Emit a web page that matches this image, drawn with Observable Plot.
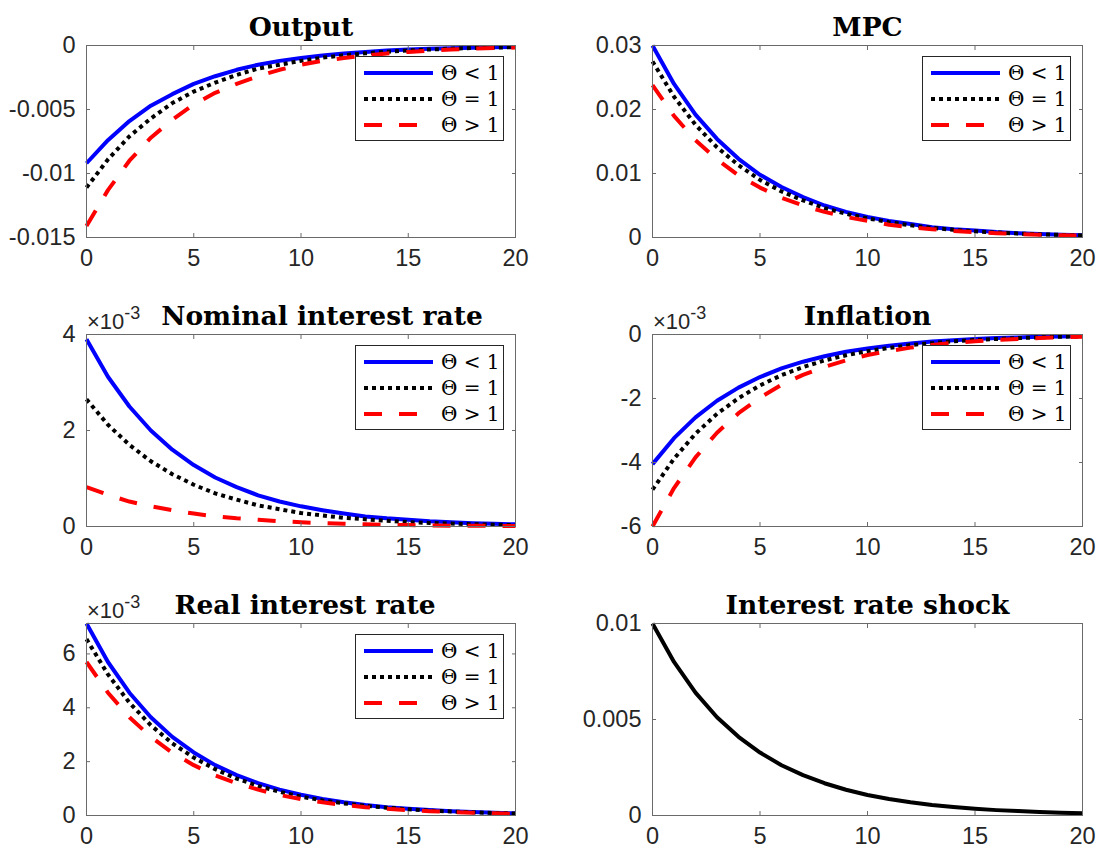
<!DOCTYPE html>
<html><head><meta charset="utf-8">
<script src="https://cdn.jsdelivr.net/npm/d3@7"></script>
<script src="https://cdn.jsdelivr.net/npm/@observablehq/plot@0.6"></script>
<style>
body{margin:0;background:#fff;}
#fig{position:relative;width:1101px;height:855px;overflow:hidden;background:#fff;}
.panel{position:absolute;}
.overlay{position:absolute;overflow:visible;}
</style></head><body><div id="fig"></div>
<script>
// ---------- data ----------
const periods = [0,1,2,3,4,5,6,7,8,9,10,11,12,13,14,15,16,17,18,19,20];
const seriesLabels = ["Θ < 1", "Θ = 1", "Θ > 1"];

const outputLow  = [-0.0092,-0.0074,-0.0059,-0.0047,-0.0038,-0.0030,-0.0024,-0.0019,-0.0015,-0.0012,-0.00098,-0.00079,-0.00063,-0.00050,-0.00040,-0.00032,-0.00026,-0.00021,-0.00017,-0.00013,-0.00011];
const outputOne  = [-0.0111,-0.0089,-0.0071,-0.0057,-0.0045,-0.0036,-0.0029,-0.0023,-0.0018,-0.0015,-0.0012,-0.00095,-0.00076,-0.00061,-0.00049,-0.00039,-0.00031,-0.00025,-0.00020,-0.00016,-0.00013];
const outputHigh = [-0.0141,-0.0113,-0.0090,-0.0072,-0.0058,-0.0046,-0.0037,-0.0030,-0.0024,-0.0019,-0.0015,-0.0012,-0.00097,-0.00078,-0.00062,-0.00050,-0.00040,-0.00032,-0.00025,-0.00020,-0.00016];

const mpcLow  = [0.0300,0.0240,0.0192,0.0154,0.0123,0.0098,0.0079,0.0063,0.0050,0.0040,0.0032,0.0026,0.0021,0.0016,0.0013,0.0011,0.00085,0.00068,0.00054,0.00043,0.00035];
const mpcOne  = [0.0275,0.0220,0.0176,0.0141,0.0113,0.0090,0.0072,0.0058,0.0046,0.0037,0.0030,0.0024,0.0019,0.0015,0.0012,0.00097,0.00078,0.00062,0.00050,0.00040,0.00032];
const mpcHigh = [0.0238,0.0190,0.0152,0.0122,0.0097,0.0078,0.0062,0.0050,0.0040,0.0032,0.0026,0.0020,0.0016,0.0013,0.0010,0.00084,0.00067,0.00054,0.00043,0.00034,0.00028];

const nominalLow  = [0.00390,0.00312,0.00250,0.00200,0.00160,0.00128,0.00102,0.00082,0.00065,0.00052,0.00042,0.00034,0.00027,0.00021,0.00017,0.00014,0.00011,0.00009,0.00007,0.000056,0.000045];
const nominalOne  = [0.00265,0.00212,0.00170,0.00136,0.00109,0.00087,0.00069,0.00056,0.00044,0.00036,0.00028,0.00023,0.00018,0.00015,0.00012,0.00009,0.000075,0.00006,0.000048,0.000038,0.00003];
const nominalHigh = [0.00082,0.00066,0.00052,0.00042,0.00034,0.00027,0.00021,0.00017,0.00014,0.00011,0.000088,0.00007,0.000056,0.000045,0.000036,0.000029,0.000023,0.000018,0.000015,0.000012,0.000009];

const inflationLow  = [-0.00405,-0.00324,-0.00259,-0.00207,-0.00166,-0.00133,-0.00106,-0.00085,-0.00068,-0.00054,-0.00044,-0.00035,-0.00028,-0.00022,-0.00018,-0.00014,-0.00011,-0.00009,-0.00007,-0.00006,-0.00005];
const inflationOne  = [-0.00485,-0.00388,-0.00310,-0.00248,-0.00199,-0.00159,-0.00127,-0.00102,-0.00081,-0.00065,-0.00052,-0.00042,-0.00033,-0.00027,-0.00021,-0.00017,-0.00014,-0.00011,-0.00009,-0.00007,-0.00006];
const inflationHigh = [-0.00600,-0.00480,-0.00384,-0.00307,-0.00246,-0.00197,-0.00157,-0.00126,-0.00101,-0.00081,-0.00064,-0.00052,-0.00041,-0.00033,-0.00026,-0.00021,-0.00017,-0.00014,-0.00011,-0.00009,-0.00007];

const realLow  = [0.00713,0.00570,0.00456,0.00365,0.00292,0.00234,0.00187,0.00150,0.00120,0.00096,0.00077,0.00061,0.00049,0.00039,0.00031,0.00025,0.00020,0.00016,0.00013,0.00010,0.00008];
const realOne  = [0.00655,0.00524,0.00419,0.00335,0.00268,0.00215,0.00172,0.00137,0.00110,0.00088,0.00070,0.00056,0.00045,0.00036,0.00029,0.00023,0.00018,0.00015,0.00012,0.00009,0.000075];
const realHigh = [0.00570,0.00456,0.00365,0.00292,0.00233,0.00187,0.00149,0.00120,0.00096,0.00076,0.00061,0.00049,0.00039,0.00031,0.00025,0.00020,0.00016,0.00013,0.00010,0.00008,0.000065];

const shock = [0.0100,0.0080,0.0064,0.00512,0.0041,0.00328,0.00262,0.0021,0.00168,0.00134,0.00107,0.00086,0.00069,0.00055,0.00044,0.00035,0.00028,0.00023,0.00018,0.00014,0.00012];

const xTicks = [0,5,10,15,20];
const outputTicks = [-0.015,-0.01,-0.005,0];
const mpcTicks = [0,0.01,0.02,0.03];
const nominalTicks = [0,0.002,0.004];
const inflationTicks = [-0.006,-0.004,-0.002,0];
const realTicks = [0,0.002,0.004,0.006];
const shockTicks = [0,0.005,0.01];

// ---------- layout ----------
const colLeft = [0, 550], colWidth = [550, 551], mLeft = [86, 102], mRight = [35, 19];
const rowTop = [0, 289, 578], rowHeight = [288, 288, 277], mTop = 45, mBottom = [51, 51, 40];
const frameColor = "#6a6a6a", textColor = "#262626";
const sansFont = "'Liberation Sans', Arial, Helvetica, sans-serif";
const serifFont = "'DejaVu Serif', serif";
const tickFont = 23.5;

const lineStyles = [
  {stroke: "#0000ff", strokeDasharray: null},
  {stroke: "#000000", strokeDasharray: "4,4"},
  {stroke: "#ff0000", strokeDasharray: "18,17"}
];

const plain = d => String(d);
const milli = d => String(+(d * 1000).toFixed(6));

const panels = [
  {title: "Output", col: 0, row: 0, series: [outputLow, outputOne, outputHigh], domain: [-0.015, 0], ticks: outputTicks, fmt: plain},
  {title: "MPC", col: 1, row: 0, series: [mpcLow, mpcOne, mpcHigh], domain: [0, 0.03], ticks: mpcTicks, fmt: plain},
  {title: "Nominal interest rate", col: 0, row: 1, series: [nominalLow, nominalOne, nominalHigh], domain: [0, 0.004], ticks: nominalTicks, fmt: milli, exp: true, titleDx: 21},
  {title: "Inflation", col: 1, row: 1, series: [inflationLow, inflationOne, inflationHigh], domain: [-0.006, 0], ticks: inflationTicks, fmt: milli, exp: true},
  {title: "Real interest rate", col: 0, row: 2, series: [realLow, realOne, realHigh], domain: [0, 0.00713], ticks: realTicks, fmt: milli, exp: true, titleDx: 4},
  {title: "Interest rate shock", col: 1, row: 2, series: [shock], domain: [0, 0.01], ticks: shockTicks, fmt: plain, single: true}
];

const fig = document.getElementById("fig");

for (const p of panels) {
  const W = colWidth[p.col], H = rowHeight[p.row];
  const ml = mLeft[p.col], mr = mRight[p.col], mb = mBottom[p.row];
  const lineMarks = p.series.map((s, k) => {
    const st = p.single ? {stroke: "#000000", strokeDasharray: null} : lineStyles[k];
    return Plot.line(s.map((v, i) => ({t: periods[i], v})), {
      x: "t", y: "v", stroke: st.stroke, strokeWidth: 4,
      strokeDasharray: st.strokeDasharray, strokeLinecap: "butt", strokeLinejoin: "round"
    });
  });
  const chart = Plot.plot({
    width: W, height: H,
    marginLeft: ml, marginRight: mr, marginTop: mTop, marginBottom: mb,
    x: {domain: [0, 20]},
    y: {domain: p.domain},
    style: {fontFamily: sansFont, color: textColor, background: "transparent", overflow: "visible"},
    marks: [
      ...lineMarks,
      Plot.frame({stroke: frameColor, strokeWidth: 1}),
      Plot.axisX(xTicks, {anchor: "bottom", tickSize: 0, tickPadding: 12, fontSize: tickFont, fill: textColor, tickFormat: plain, label: null}),
      Plot.axisX(xTicks, {anchor: "bottom", tickSize: -4, fill: "none", stroke: frameColor, label: null}),
      Plot.axisX(xTicks, {anchor: "top", tickSize: -4, fill: "none", stroke: frameColor, label: null}),
      Plot.axisY(p.ticks, {anchor: "left", tickSize: 0, tickPadding: 11, fontSize: tickFont, fill: textColor, tickFormat: p.fmt, label: null}),
      Plot.axisY(p.ticks, {anchor: "left", tickSize: -4, fill: "none", stroke: frameColor, label: null}),
      Plot.axisY(p.ticks, {anchor: "right", tickSize: -4, fill: "none", stroke: frameColor, label: null}),
      Plot.text([p.title], {text: d => d, frameAnchor: "top", lineAnchor: "bottom", dy: -10, dx: p.titleDx || 0,
        fontFamily: serifFont, fontWeight: "bold", fontSize: 26.5, fill: "#000"})
    ]
  });
  chart.classList.add("panel");
  chart.style.left = colLeft[p.col] + "px";
  chart.style.top = rowTop[p.row] + "px";
  fig.appendChild(chart);

  const boxLeft = colLeft[p.col] + ml, boxRight = colLeft[p.col] + W - mr, boxTop = rowTop[p.row] + mTop;

  if (p.exp) {
    const e = d3.select(fig).append("svg").attr("class", "overlay")
      .attr("width", 90).attr("height", 34)
      .style("left", (boxLeft + 1) + "px").style("top", (boxTop - 34) + "px");
    const t = e.append("text").attr("x", 0).attr("y", 29)
      .attr("font-family", sansFont).attr("font-size", 22).attr("fill", textColor);
    t.append("tspan").text("×10");
    t.append("tspan").attr("dy", -10).attr("font-size", 18).text("-3");
  }

  if (!p.single) {
    const LW = 149, LH = 85;
    const lg = d3.select(fig).append("svg").attr("class", "overlay")
      .attr("width", LW).attr("height", LH)
      .style("left", (boxRight - 11 - LW) + "px").style("top", (boxTop + 11) + "px");
    lg.append("rect").attr("x", 0.5).attr("y", 0.5).attr("width", LW - 1).attr("height", LH - 1)
      .attr("fill", "#fff").attr("stroke", "#262626").attr("stroke-width", 1);
    seriesLabels.forEach((lab, k) => {
      const y = 17 + 26 * k;
      lg.append("line").attr("x1", 9).attr("x2", 78).attr("y1", y).attr("y2", y)
        .attr("stroke", lineStyles[k].stroke).attr("stroke-width", 4)
        .attr("stroke-dasharray", lineStyles[k].strokeDasharray).attr("stroke-linecap", "butt");
      lg.append("text").attr("x", 86).attr("y", y).attr("dy", "0.36em")
        .attr("font-family", serifFont).attr("font-size", 20).attr("fill", "#000")
        .text(lab);
    });
  }
}
</script></body></html>
